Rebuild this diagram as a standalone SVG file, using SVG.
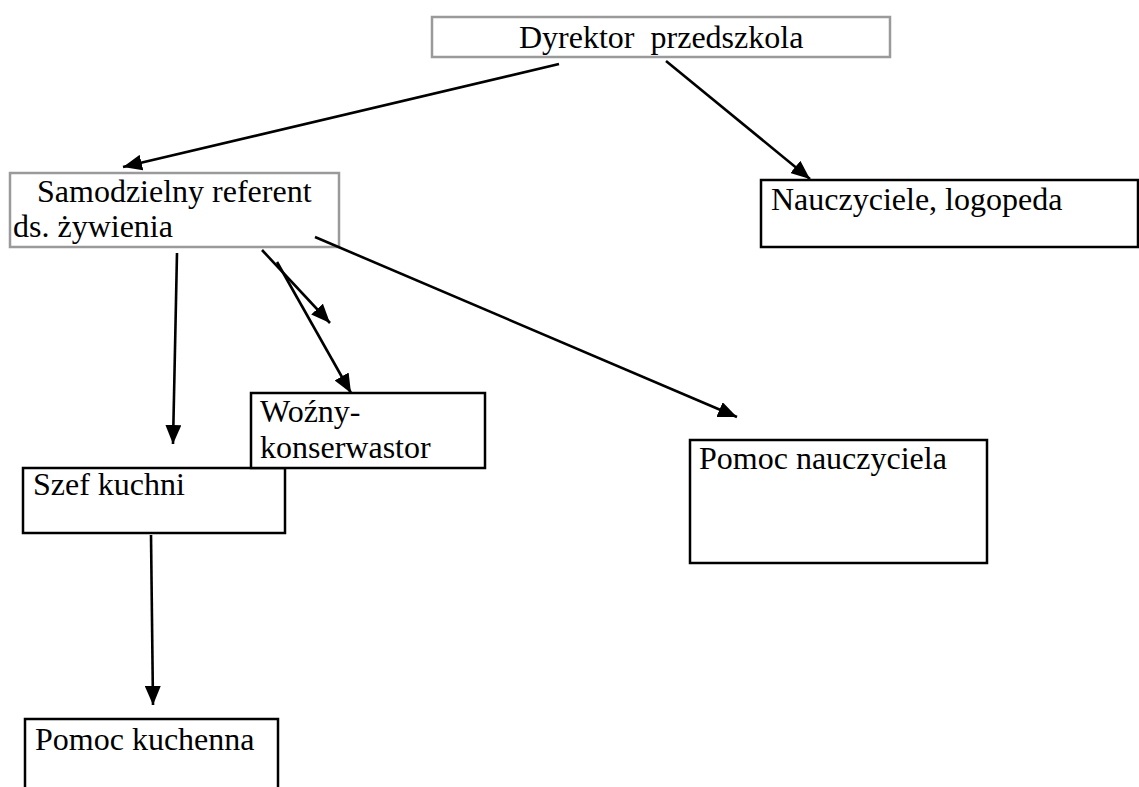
<svg xmlns="http://www.w3.org/2000/svg" width="1139" height="787" viewBox="0 0 1139 787">
<style>
.t{font-family:"Liberation Serif","Times New Roman",serif;font-size:32px;fill:#000}
.bx{fill:#fff;stroke:#000;stroke-width:2.5}
.gb{fill:#fff;stroke:#9a9a9a;stroke-width:2.5}
.c{stroke:#000;stroke-width:2.6;fill:none;marker-end:url(#ah)}
</style>
<defs>
<marker id="ah" markerUnits="userSpaceOnUse" markerWidth="20" markerHeight="16" refX="19" refY="8" orient="auto">
<path d="M0,0 L19,8 L0,16 Z" fill="#000"/>
</marker>
</defs>
<rect width="1139" height="787" fill="#fff"/>
<g id="n-dyrektor">
<rect class="gb" x="432" y="17" width="458" height="40"/>
<text class="t" x="519" y="48" xml:space="preserve">Dyrektor  przedszkola</text>
</g>
<g id="n-referent">
<rect class="gb" x="10" y="173" width="329" height="74"/>
<text class="t" x="37" y="202">Samodzielny referent</text>
<text class="t" x="13" y="237">ds. żywienia</text>
</g>
<g id="n-nauczyciele">
<rect class="bx" x="761" y="180" width="377" height="67"/>
<text class="t" x="771" y="210">Nauczyciele, logopeda</text>
</g>
<g id="n-szef">
<rect class="bx" x="23" y="468" width="262" height="65"/>
<text class="t" x="33" y="495">Szef kuchni</text>
</g>
<g id="n-wozny">
<rect class="bx" x="251" y="393" width="234" height="75"/>
<text class="t" x="260" y="422">Woźny-</text>
<text class="t" x="260" y="458">konserwastor</text>
</g>
<g id="n-pomoc-nauczyciela">
<rect class="bx" x="690" y="440" width="297" height="123"/>
<text class="t" x="699" y="469">Pomoc nauczyciela</text>
</g>
<g id="n-pomoc-kuchenna">
<rect class="bx" x="25" y="719" width="253" height="80"/>
<text class="t" x="35" y="750">Pomoc kuchenna</text>
</g>
<g id="connectors">
<line class="c" x1="559" y1="64" x2="123" y2="167"/>
<line class="c" x1="666" y1="61" x2="810" y2="179"/>
<line class="c" x1="177" y1="253" x2="173" y2="444"/>
<line class="c" x1="262" y1="250" x2="330" y2="323"/>
<line class="c" x1="277" y1="262" x2="351" y2="393"/>
<line class="c" x1="315" y1="237" x2="737" y2="417"/>
<line class="c" x1="151" y1="535" x2="153" y2="705"/>
</g>
</svg>
